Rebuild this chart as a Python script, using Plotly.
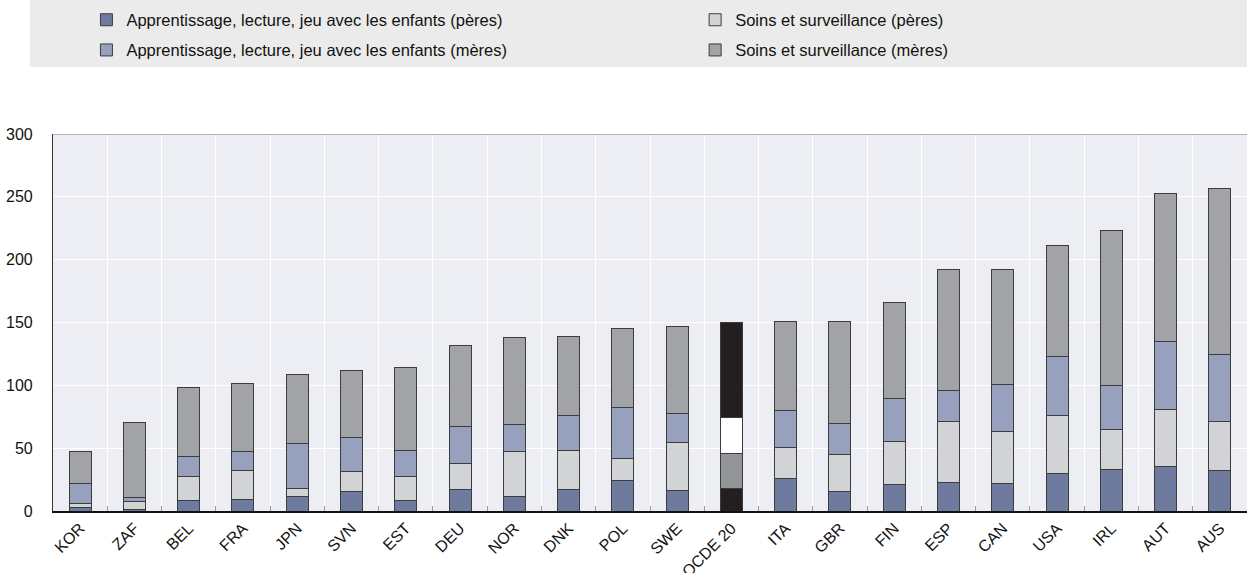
import plotly.graph_objects as go

# Minutes per day spent with children, by parent and activity
countries = ["KOR", "ZAF", "BEL", "FRA", "JPN", "SVN", "EST", "DEU", "NOR", "DNK", "POL",
             "SWE", "OCDE 20", "ITA", "GBR", "FIN", "ESP", "CAN", "USA", "IRL", "AUT", "AUS"]

peres_apprentissage = [3.0, 1.3, 8.5, 9.5, 11.7, 15.7, 8.5, 17.5, 11.4, 17.2, 24.4,
                       16.5, 18.3, 25.5, 15.7, 20.7, 22.8, 21.7, 29.7, 32.9, 35.3, 32.1]
peres_soins = [2.6, 5.9, 19.1, 22.9, 6.6, 15.9, 19.1, 20.4, 36.1, 30.8, 17.5,
               38.2, 27.8, 25.2, 29.1, 35.0, 48.6, 41.9, 46.4, 32.1, 45.1, 39.5]
meres_apprentissage = [16.4, 3.9, 15.9, 15.1, 35.6, 27.0, 20.9, 29.7, 21.2, 27.8, 40.8,
                       22.7, 28.7, 29.1, 25.0, 34.0, 24.6, 36.9, 46.7, 35.0, 54.8, 53.3]
meres_soins = [25.5, 59.7, 54.4, 54.1, 54.8, 53.3, 65.3, 64.2, 69.2, 62.9, 62.3,
               69.5, 75.6, 71.1, 81.1, 76.3, 96.0, 91.5, 88.2, 123.5, 117.8, 131.8]

# (label, values, colour, colour of the OECD average bar, legend id)
series = [
    ("Apprentissage, lecture, jeu avec les enfants (pères)", peres_apprentissage, "#6f7b9e", "#231f20", "legend"),
    ("Soins et surveillance (pères)", peres_soins, "#d2d3d5", "#939598", "legend2"),
    ("Apprentissage, lecture, jeu avec les enfants (mères)", meres_apprentissage, "#97a1bd", "#ffffff", "legend3"),
    ("Soins et surveillance (mères)", meres_soins, "#a2a3a7", "#231f20", "legend4"),
]

FONT = "Liberation Sans, Arial, sans-serif"

fig = go.Figure()
for name, vals, col, oecd_col, leg in series:
    colors = [oecd_col if c == "OCDE 20" else col for c in countries]
    fig.add_trace(go.Bar(
        name=name, x=countries, y=vals, legend=leg,
        marker=dict(color=colors, line=dict(color="#3c3c3c", width=1)),
    ))

# grey band behind the legend
fig.add_shape(type="rect", xref="paper", yref="paper",
              x0=-0.0193, x1=1.0, y0=1.1777, y1=1.3554,
              fillcolor="#ebebeb", line=dict(width=0), layer="below")
# frame line along the top of the plot
fig.add_shape(type="line", xref="paper", yref="y", x0=0, x1=1, y0=300, y1=300,
              line=dict(color="#b3b3b3", width=2))

legend_font = dict(family=FONT, size=16.5, color="#111111")


def legend_box(x, y):
    return dict(orientation="h", x=x, y=y, xanchor="left", yanchor="top",
                bgcolor="rgba(0,0,0,0)", font=legend_font, itemclick=False)


col1, col2 = 0.028, 0.5378
row1, row2 = 1.3487, 1.2687

fig.update_layout(
    width=1247, height=573,
    barmode="stack", bargap=0.595,
    paper_bgcolor="white", plot_bgcolor="#edeef4",
    margin=dict(l=53, r=0, t=134, b=62, autoexpand=False),
    font=dict(family=FONT, size=16, color="#111111"),
    showlegend=True,
    legend=legend_box(col1, row1),
    legend2=legend_box(col2, row1),
    legend3=legend_box(col1, row2),
    legend4=legend_box(col2, row2),
    xaxis=dict(
        type="category", tickson="boundaries", showgrid=True, gridcolor="white", gridwidth=1,
        ticks="inside", ticklen=5, tickcolor="#9a9a9a", tickangle=-45,
        showline=True, linecolor="#111111", linewidth=1.5, automargin=False,
        tickfont=dict(family=FONT, size=16, color="#111111"), ticklabelstandoff=0,
    ),
    yaxis=dict(
        range=[0, 300], tickvals=[0, 50, 100, 150, 200, 250, 300],
        showgrid=True, gridcolor="white", gridwidth=1, zeroline=False,
        showline=True, linecolor="#333333", linewidth=1.2, ticks="", automargin=False,
        tickfont=dict(family=FONT, size=16, color="#111111"), ticklabelstandoff=16,
    ),
)

fig.write_html("out.html")
